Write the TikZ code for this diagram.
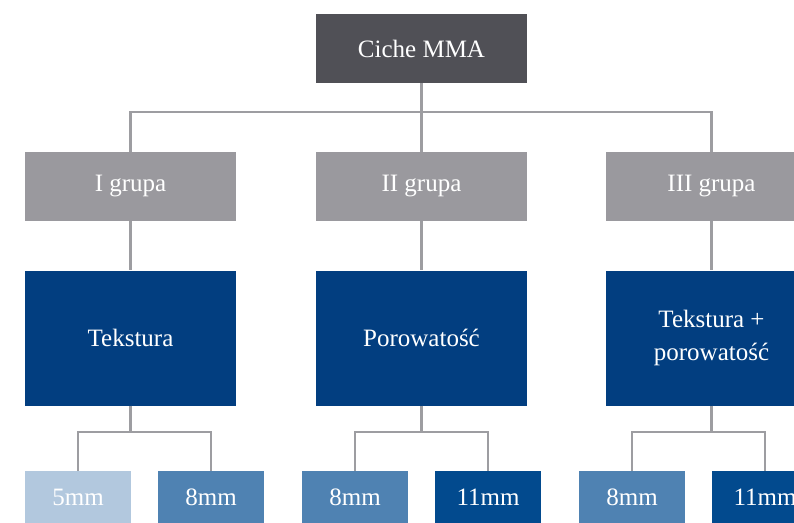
\documentclass[tikz,border=0pt]{standalone}
\usepackage{fontspec}
\setmainfont{Liberation Serif}
\definecolor{topgrey}{HTML}{505056}
\definecolor{groupgrey}{HTML}{9A999E}
\definecolor{navy}{HTML}{023E80}
\definecolor{paleblue}{HTML}{B2C8DE}
\definecolor{midblue}{HTML}{4F82B2}
\definecolor{deepblue}{HTML}{024A8E}
\definecolor{linkgrey}{HTML}{9D9DA1}
\tikzset{
  box/.style={rectangle, inner sep=0pt, text=white, align=center,
    font=\fontsize{25}{33}\selectfont},
  headbox/.style={box, fill=topgrey, minimum width=211pt, minimum height=69pt},
  groupbox/.style={box, fill=groupgrey, minimum width=211pt, minimum height=69pt},
  kindbox/.style={box, fill=navy, minimum width=211pt, minimum height=135pt},
  sizebox/.style={box, minimum width=106pt, minimum height=52pt},
  link/.style={draw=linkgrey, line width=2.8pt}
}
\begin{document}
\begin{tikzpicture}[x=1pt, y=-1pt]
    \clip (0,0) rectangle (794,522);
    \useasboundingbox (0,0) rectangle (794,522);
    % top
    \node[headbox] (top) at (421.5,48.5) {Ciche MMA};
    % groups
    \node[groupbox] (g1) at (130.5,186.5) {I grupa};
    \node[groupbox] (g2) at (421.5,186.5) {II grupa};
    \node[groupbox] (g3) at (711.5,186.5) {III grupa};
    % kinds
    \node[kindbox] (k1) at (130.5,338) {Tekstura};
    \node[kindbox] (k2) at (421.5,338) {Porowatość};
    \node[kindbox] (k3) at (711.5,338) {Tekstura +\\porowatość};
    % sizes
    \node[sizebox, fill=paleblue] (s11) at (78,497) {5mm};
    \node[sizebox, fill=midblue] (s12) at (211,497) {8mm};
    \node[sizebox, fill=midblue] (s21) at (355,497) {8mm};
    \node[sizebox, fill=deepblue] (s22) at (488,497) {11mm};
    \node[sizebox, fill=midblue] (s31) at (632,497) {8mm};
    \node[sizebox, fill=deepblue] (s32) at (765,497) {11mm};
    % tree
    \coordinate (bus) at (421.5,112);
    \draw[link] (top) -- (bus);
    \draw[link] (g1.north) |- (bus) -| (g3.north);
    \draw[link] (bus) -- (g2);
    \draw[link] (g1) -- (k1);
    \draw[link] (g2) -- (k2);
    \draw[link] (g3) -- (k3);
    \coordinate (f1) at (130.5,432);
    \coordinate (f2) at (421.5,432);
    \coordinate (f3) at (711.5,432);
    \draw[link] (k1.south) -- (f1);
    \draw[link] (s11.north) |- (f1) -| (s12.north);
    \draw[link] (k2.south) -- (f2);
    \draw[link] (s21.north) |- (f2) -| (s22.north);
    \draw[link] (k3.south) -- (f3);
    \draw[link] (s31.north) |- (f3) -| (s32.north);
\end{tikzpicture}
\end{document}
